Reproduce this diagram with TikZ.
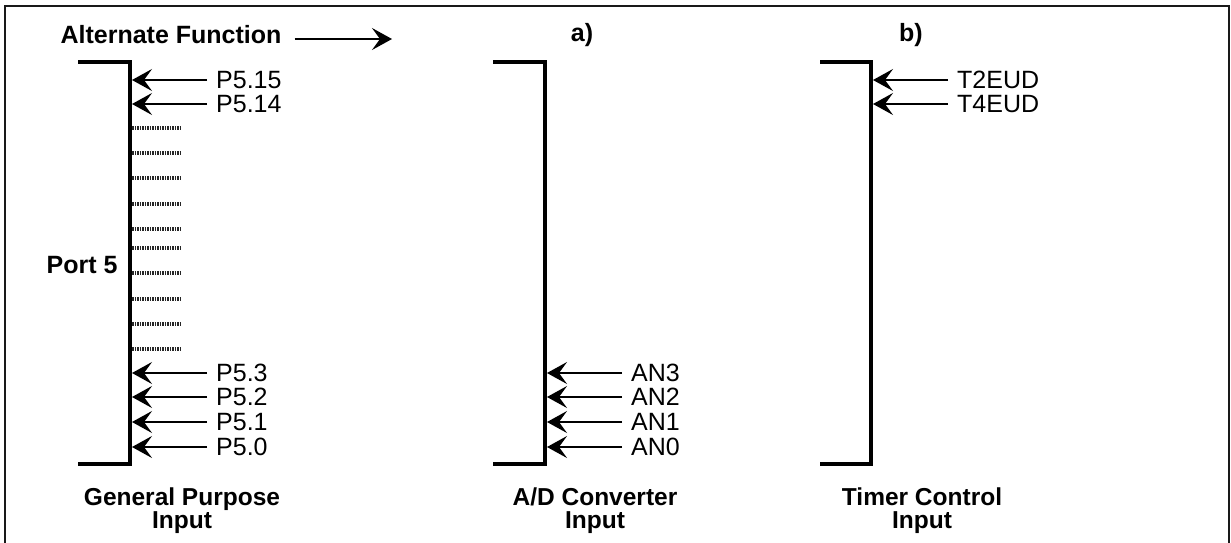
\documentclass[tikz,border=0pt]{standalone}
\usepackage{fontspec}
\setmainfont{Liberation Sans}
\usetikzlibrary{arrows.meta, positioning}
\tikzset{
  frame/.style={line width=2pt, draw=black!90},
  bracket/.style={line width=4pt, line join=miter},
  sig/.style={-{Stealth[length=20pt, width=22pt, inset=8pt]}, line width=1.8pt},
  spare/.style={line width=3.2pt, draw=black!85, dash pattern=on 1.5pt off 1pt},
  pinlabel/.style={anchor=west, inner xsep=9pt, inner ysep=0pt, font=\fontsize{25}{27}\selectfont},
  headlabel/.style={inner sep=0pt, font=\fontsize{25}{27}\selectfont\bfseries},
  footlabel/.style={align=center, inner sep=0pt, font=\fontsize{24.5}{23}\selectfont\bfseries},
}
\begin{document}
\begin{tikzpicture}[x=1pt, y=-1pt]
  \useasboundingbox (0,0) rectangle (1231,542);
  \draw[frame] (5,6) rectangle (1229,550);

  % headings
  \node[headlabel, inner xsep=13pt] (altfn) at (171,35) {Alternate Function};
  \coordinate (altend) at (392,39);
  \draw[sig] (altfn.east |- altend) -- (altend);
  \node[headlabel] (caseA) at (582,35) {a)};
  \node[headlabel] (caseB) at (911,35) {b)};

  % general purpose port
  \draw[bracket] (78,62) -- (130,62) -- (130,464) -- (78,464);
  \node[headlabel] (port) at (82,265) {Port 5};
  \coordinate (gp15) at (132,80);
  \coordinate (gp14) at (132,104);
  \coordinate (gp3) at (132,373);
  \coordinate (gp2) at (132,397);
  \coordinate (gp1) at (132,422);
  \coordinate (gp0) at (132,447);
  \node[pinlabel] (p515) at (207,80) {P5.15};
  \node[pinlabel] (p514) at (207,104) {P5.14};
  \node[pinlabel] (p53) at (207,373) {P5.3};
  \node[pinlabel] (p52) at (207,397) {P5.2};
  \node[pinlabel] (p51) at (207,422) {P5.1};
  \node[pinlabel] (p50) at (207,447) {P5.0};
  \draw[sig] (p515.west) -- (gp15);
  \draw[sig] (p514.west) -- (gp14);
  \draw[sig] (p53.west) -- (gp3);
  \draw[sig] (p52.west) -- (gp2);
  \draw[sig] (p51.west) -- (gp1);
  \draw[sig] (p50.west) -- (gp0);
  \draw[spare] (132,128) -- (182,128);
  \draw[spare] (132,153) -- (182,153);
  \draw[spare] (132,178) -- (182,178);
  \draw[spare] (132,204) -- (182,204);
  \draw[spare] (132,229) -- (182,229);
  \draw[spare] (132,248) -- (182,248);
  \draw[spare] (132,273) -- (182,273);
  \draw[spare] (132,299) -- (182,299);
  \draw[spare] (132,324) -- (182,324);
  \draw[spare] (132,349) -- (182,349);
  \node[footlabel] (gpin) at (182,511) {General Purpose\\Input};

  % a) A/D converter
  \draw[bracket] (493,62) -- (545,62) -- (545,464) -- (493,464);
  \coordinate (ad3) at (547,373);
  \coordinate (ad2) at (547,397);
  \coordinate (ad1) at (547,422);
  \coordinate (ad0) at (547,447);
  \node[pinlabel] (an3) at (622,373) {AN3};
  \node[pinlabel] (an2) at (622,397) {AN2};
  \node[pinlabel] (an1) at (622,422) {AN1};
  \node[pinlabel] (an0) at (622,447) {AN0};
  \draw[sig] (an3.west) -- (ad3);
  \draw[sig] (an2.west) -- (ad2);
  \draw[sig] (an1.west) -- (ad1);
  \draw[sig] (an0.west) -- (ad0);
  \node[footlabel] (adin) at (595,511) {A/D Converter\\Input};

  % b) timer control
  \draw[bracket] (820,62) -- (871,62) -- (871,464) -- (820,464);
  \coordinate (tc2) at (873,80);
  \coordinate (tc4) at (873,104);
  \node[pinlabel] (t2eud) at (948,80) {T2EUD};
  \node[pinlabel] (t4eud) at (948,104) {T4EUD};
  \draw[sig] (t2eud.west) -- (tc2);
  \draw[sig] (t4eud.west) -- (tc4);
  \node[footlabel] (tcin) at (922,511) {Timer Control\\Input};
\end{tikzpicture}
\end{document}
